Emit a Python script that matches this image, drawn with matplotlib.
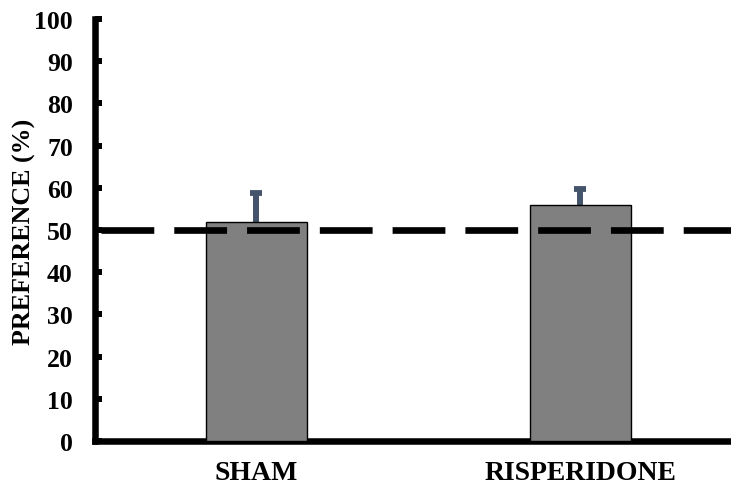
import matplotlib
matplotlib.use("Agg")
import matplotlib.pyplot as plt

categories = ["SHAM", "RISPERIDONE"]
values = [51.8, 56.0]
errors = [7.0, 3.7]
y_ticks = [0, 10, 20, 30, 40, 50, 60, 70, 80, 90, 100]
reference_level = 50

plt.rcParams['font.family'] = ['Liberation Serif', 'DejaVu Serif']
plt.rcParams['font.weight'] = 'bold'
plt.rcParams['lines.scale_dashes'] = False

W, H = 731, 489
fig = plt.figure(figsize=(W / 100, H / 100), dpi=100)
left_px, right_px, bottom_px, top_px = 95, 731, 442, 20
ax = fig.add_axes([left_px / W, 1 - bottom_px / H,
                   (right_px - left_px) / W, (bottom_px - top_px) / H])

px_per_unit = 324
x0 = -(256.5 - left_px) / px_per_unit
ax.set_xlim(x0, x0 + (right_px - left_px) / px_per_unit)
ax.set_ylim(0, 100)

xs = list(range(len(categories)))
ax.bar(xs, values, width=0.312, color='#808080', edgecolor='black',
       linewidth=1.0, zorder=3)
eb = ax.errorbar(xs, values, yerr=[[0] * len(errors), errors], fmt='none',
                 ecolor='#44546A', elinewidth=4.3, capsize=4.2, capthick=4.2,
                 zorder=2)
# keep only the upper caps
for cl in eb[1]:
    yd = list(cl.get_ydata())
    if all(abs(a - b) < 1e-9 for a, b in zip(yd, values)):
        cl.set_visible(False)

ax.axhline(reference_level, xmin=6 / (right_px - left_px), xmax=1,
           color='black', linewidth=4.8, dashes=(38, 14.4),
           solid_capstyle='butt', dash_capstyle='butt', zorder=4)

for s in ['top', 'right']:
    ax.spines[s].set_visible(False)
for s in ['left', 'bottom']:
    ax.spines[s].set_linewidth(4.7)
    ax.spines[s].set_capstyle('projecting')

ax.set_yticks(y_ticks)
ax.set_yticklabels([str(t) for t in y_ticks])
ax.tick_params(axis='y', direction='in', length=5, width=4.3, pad=16,
               labelsize=18.5)
ax.set_xticks(xs)
ax.set_xticklabels(categories)
ax.tick_params(axis='x', length=0, pad=14, labelsize=20)
for lab in ax.get_xticklabels() + ax.get_yticklabels():
    lab.set_fontweight('bold')

fig.text(24 / W, 1 - 232 / H, "PREFERENCE (%)", rotation=90,
         ha='center', va='center', fontsize=18.7, fontweight='bold')

fig.savefig("out.png", dpi=100)
